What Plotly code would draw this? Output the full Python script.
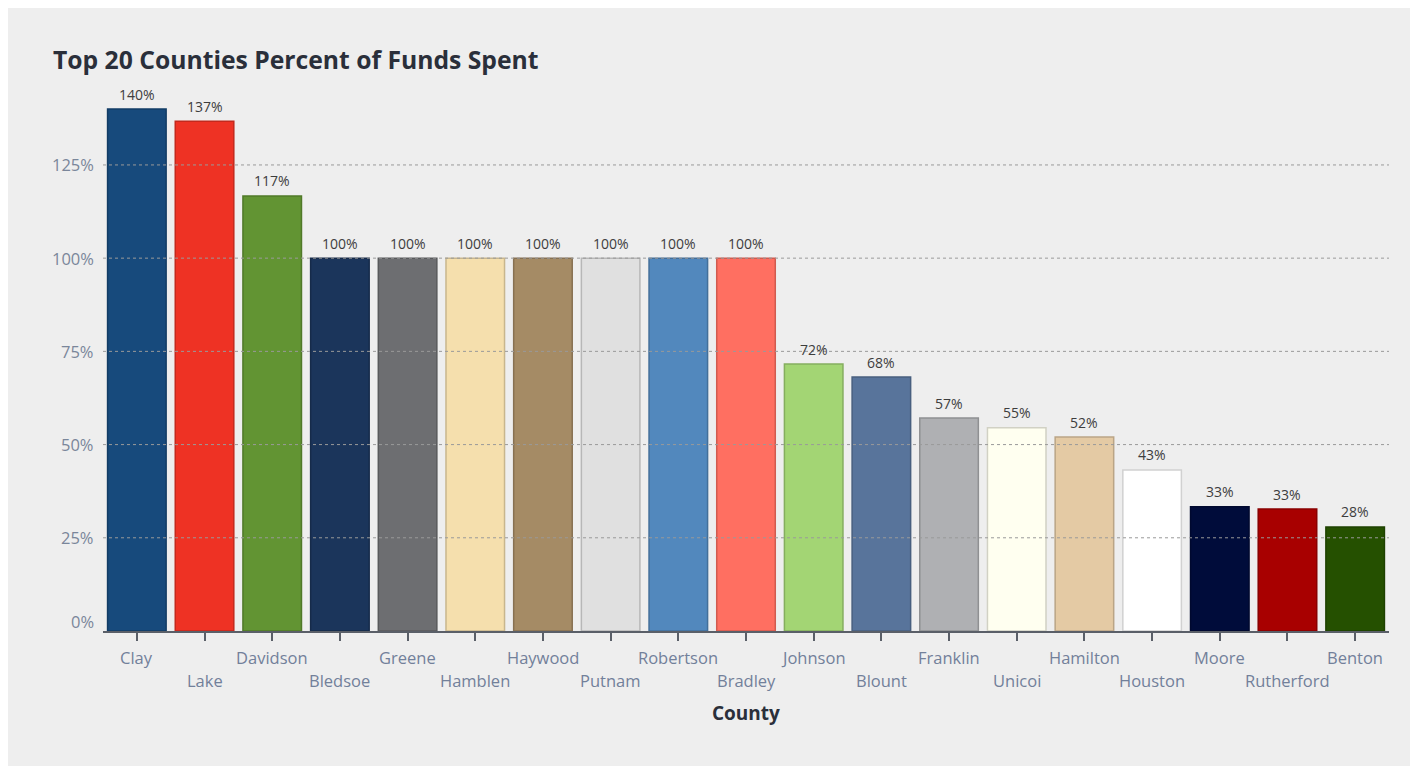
import plotly.graph_objects as go

counties = ["Clay", "Lake", "Davidson", "Bledsoe", "Greene", "Hamblen", "Haywood",
            "Putnam", "Robertson", "Bradley", "Johnson", "Blount", "Franklin",
            "Unicoi", "Hamilton", "Houston", "Moore", "Rutherford", "Benton"]
pct_spent = [1.40, 1.367, 1.167, 1.00, 1.00, 1.00, 1.00, 1.00, 1.00, 1.00,
             0.716, 0.681, 0.571, 0.545, 0.52, 0.432, 0.333, 0.327, 0.279]
bar_colors = ["#174a7c", "#ee3224", "#629433", "#1b355b", "#6d6e71", "#f5dfad",
              "#a58b65", "#e0e0e0", "#5288bd", "#ff6f61", "#a3d574", "#58749b",
              "#afb0b3", "#fffff0", "#e4caa4", "#ffffff", "#000c3a", "#a80000",
              "#255000"]
y_ticks = [0, 0.25, 0.50, 0.75, 1.00, 1.25]
y_tick_labels = ["0%", "25%", "50%", "75%", "100%", "125%"]


def darken(hexc, f=0.82):
    h = hexc.lstrip("#")
    r, g, b = (int(h[i:i + 2], 16) for i in (0, 2, 4))
    return "#%02x%02x%02x" % (int(r * f), int(g * f), int(b * f))


W, H = 1409, 758
ML, MR, MT, MB = 95, 28, 82, 135

fig = go.Figure()
fig.add_trace(go.Bar(
    x=counties, y=pct_spent,
    marker=dict(color=bar_colors,
                line=dict(color=[darken(c) for c in bar_colors], width=1.5)),
    hoverinfo="x+y",
))

annotations = []
# data labels
for c, v in zip(counties, pct_spent):
    annotations.append(dict(x=c, y=v, xref="x", yref="y", text=f"{round(v * 100)}%",
                            showarrow=False, yanchor="middle", yshift=15,
                            font=dict(family="Open Sans", size=14, color="#3d3d3d")))
# x category labels, staggered
for i, c in enumerate(counties):
    annotations.append(dict(x=c, y=0, xref="x", yref="y", text=c, showarrow=False,
                            yanchor="middle", yshift=-26 if i % 2 == 0 else -49,
                            font=dict(family="Open Sans", size=16.5, color="#72809a")))
# y tick labels
for t, lab in zip(y_ticks, y_tick_labels):
    annotations.append(dict(x=0, y=t, xref="paper", yref="y", text=lab, showarrow=False,
                            xanchor="right", yanchor="middle", xshift=-7,
                            yshift=10 if t == 0 else 0,
                            font=dict(family="Open Sans", size=16.5, color="#7a869a")))
# axis title
annotations.append(dict(x=0.5, y=0, xref="paper", yref="paper", text="<b>County</b>",
                        showarrow=False, yanchor="middle", yshift=-82,
                        font=dict(family="Open Sans", size=19, color="#2a2f3a")))

shapes = []
for t in y_ticks[1:]:
    shapes.append(dict(type="line", xref="paper", yref="y", x0=0, x1=1.0, y0=t, y1=t,
                       line=dict(color="#9a9a9a", width=1, dash="dot"), layer="above"))

fig.update_layout(
    width=W, height=H,
    margin=dict(l=ML, r=MR, t=MT, b=MB),
    paper_bgcolor="#eeeeee", plot_bgcolor="#eeeeee",
    bargap=0.135,
    showlegend=False,
    title=dict(text="<b>Top 20 Counties Percent of Funds Spent</b>",
               x=45 / W, xref="container", xanchor="left",
               y=1 - 52 / H, yref="container", yanchor="middle",
               font=dict(family="Open Sans", size=24.7, color="#2a2f3a")),
    xaxis=dict(showticklabels=False, ticks="outside", ticklen=8, tickwidth=2,
               tickcolor="#5a5f68", showline=True, linecolor="#5a5f68", linewidth=2,
               showgrid=False, layer="above traces", range=[-0.5, len(counties) - 0.5]),
    yaxis=dict(range=[0, 1.451], showticklabels=False, showgrid=False,
               zeroline=False, tickvals=y_ticks),
    annotations=annotations,
    shapes=shapes,
)

fig.write_html("out.html")
